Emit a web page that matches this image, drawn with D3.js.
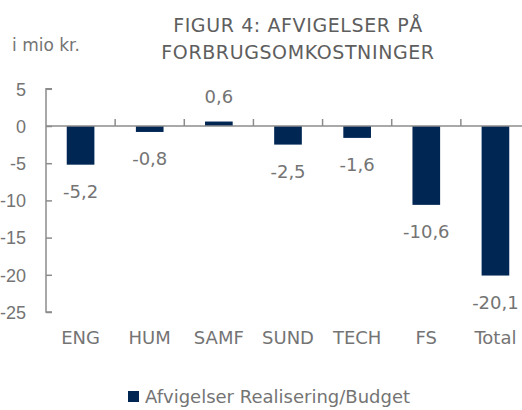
<!DOCTYPE html>
<html><head><meta charset="utf-8">
<script src="https://cdn.jsdelivr.net/npm/d3@7"></script>
<style>
html,body{margin:0;padding:0;background:#fff;}
svg{display:block;font-family:"DejaVu Sans",sans-serif;}
</style></head>
<body>
<svg id="c" width="522" height="410"></svg>
<script>
const categories = ["ENG","HUM","SAMF","SUND","TECH","FS","Total"];
const values = [-5.2,-0.8,0.6,-2.5,-1.6,-10.6,-20.1];
const valueLabels = ["-5,2","-0,8","0,6","-2,5","-1,6","-10,6","-20,1"];
const yTicks = [5,0,-5,-10,-15,-20,-25];
const titleLines = ["FIGUR 4: AFVIGELSER PÅ","FORBRUGSOMKOSTNINGER"];
const unitLabel = "i mio kr.";
const seriesName = "Afvigelser Realisering/Budget";

const svg = d3.select("#c");
const barColor = "#002653", axisColor = "#8c8c8c", textColor = "#747474";
const x0 = 46, x1 = 530;
const y = d3.scaleLinear().domain([-25,5]).range([312,88.8]);
const x = d3.scaleBand().domain(categories).range([x0,x1]).paddingInner(0.6).paddingOuter(0.3);

// title
svg.append("g").selectAll("text").data(titleLines).join("text")
  .attr("x",298).attr("y",(d,i)=>31.5+i*27.5).attr("text-anchor","middle")
  .attr("font-size",19).attr("letter-spacing",0.6).attr("fill","#5e5e5e").text(d=>d);
svg.append("text").attr("x",12).attr("y",51).attr("font-size",17)
  .attr("fill",textColor).text(unitLabel);

// y axis
const yAxis = d3.axisRight(y).tickValues(yTicks).tickSize(6).tickFormat(d=>d<0?"-"+Math.abs(d):d);
const gy = svg.append("g").attr("transform",`translate(${x0},0)`).call(yAxis);
gy.select(".domain").attr("stroke",axisColor).attr("stroke-width",1.5).attr("d",`M6,${y(5)}H0V${y(-25)}H6`);
gy.selectAll(".tick line").attr("stroke",axisColor).attr("stroke-width",1.5);
gy.selectAll(".tick text").attr("x",-20).attr("text-anchor","end").attr("dy","0.35em")
  .attr("font-size",18).attr("fill",textColor).attr("font-family",null);

// bars
svg.append("g").selectAll("rect").data(values).join("rect")
  .attr("x",(d,i)=>x(categories[i])).attr("width",x.bandwidth())
  .attr("y",d=>y(Math.max(0,d))).attr("height",d=>Math.abs(y(d)-y(0)))
  .attr("fill",barColor);

// x axis (0 line + tick marks upward)
const gx = svg.append("g");
gx.append("line").attr("x1",x0).attr("x2",522).attr("y1",y(0)).attr("y2",y(0))
  .attr("stroke",axisColor).attr("stroke-width",1.5);
gx.selectAll("line.t").data(categories.slice(1)).join("line").attr("class","t")
  .attr("x1",c=>x(c)-(x.step()-x.bandwidth())/2).attr("x2",c=>x(c)-(x.step()-x.bandwidth())/2)
  .attr("y1",y(0)).attr("y2",y(0)-7).attr("stroke",axisColor).attr("stroke-width",1.5);

// category labels
svg.append("g").selectAll("text").data(categories).join("text")
  .attr("x",c=>x(c)+x.bandwidth()/2).attr("y",344).attr("text-anchor","middle")
  .attr("font-size",18).attr("fill",textColor).text(c=>c);

// value labels
svg.append("g").selectAll("text").data(values).join("text")
  .attr("x",(d,i)=>x(categories[i])+x.bandwidth()/2)
  .attr("y",d=>d<0? y(d)+33.5 : y(d)-18.5).attr("text-anchor","middle")
  .attr("font-size",18).attr("fill",textColor)
  .text((d,i)=>valueLabels[i]);

// legend
svg.append("rect").attr("x",128).attr("y",391).attr("width",11).attr("height",11).attr("fill",barColor);
svg.append("text").attr("x",145).attr("y",403).attr("font-size",18)
  .attr("fill",textColor).text(seriesName);
</script>
</body></html>
